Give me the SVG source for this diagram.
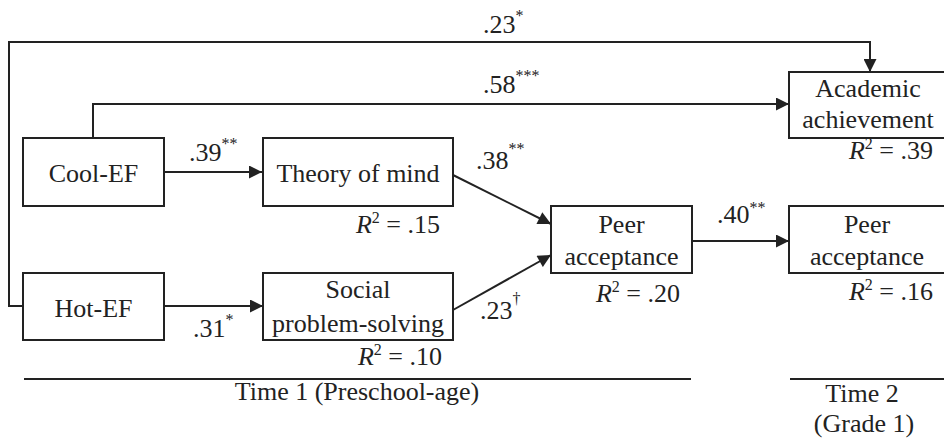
<svg xmlns="http://www.w3.org/2000/svg" width="944" height="443" viewBox="0 0 944 443" font-family="'Liberation Serif', Tinos, 'DejaVu Serif', serif">
<defs>
<style>
text{font-family:'Liberation Serif',Tinos,'Times New Roman','DejaVu Serif',serif;font-size:26px;fill:#222}
.c{text-anchor:middle}
.e{text-anchor:end}
.box{fill:#fff;stroke:#222;stroke-width:2}
.ln{fill:none;stroke:#222;stroke-width:2}
.sup{font-size:16px}
.i{font-style:italic}
</style>
<marker id="ah" viewBox="0 0 10 10" refX="10" refY="5" markerUnits="userSpaceOnUse" markerWidth="15" markerHeight="13" orient="auto">
<path d="M0,0 L10,5 L0,10 z" fill="#222"/>
</marker>
</defs>
<rect width="944" height="443" fill="#fff"/>
<g id="connectors">
<path class="ln" d="M23,306 H9 V42 H870 V72" marker-end="url(#ah)"/>
<path class="ln" d="M93,138 V104 H789" marker-end="url(#ah)"/>
<path class="ln" d="M164,172 H262" marker-end="url(#ah)"/>
<path class="ln" d="M164,306 H263" marker-end="url(#ah)"/>
<path class="ln" d="M453,175 L551,224" marker-end="url(#ah)"/>
<path class="ln" d="M453,310 L551,255" marker-end="url(#ah)"/>
<path class="ln" d="M692,241 H789" marker-end="url(#ah)"/>
<text x="483" y="33">.23<tspan class="sup" dy="-12">*</tspan></text>
<text x="483" y="93">.58<tspan class="sup" dy="-12">***</tspan></text>
<text x="189" y="161">.39<tspan class="sup" dy="-12">**</tspan></text>
<text x="193" y="337">.31<tspan class="sup" dy="-12">*</tspan></text>
<text x="476" y="169">.38<tspan class="sup" dy="-15">**</tspan></text>
<text x="480" y="319">.23<tspan class="sup" dy="-15">†</tspan></text>
<text x="717" y="223">.40<tspan class="sup" dy="-10">**</tspan></text>
</g>
<g id="cool-ef">
<rect class="box" x="23" y="138" width="141" height="68"/>
<text class="c" x="93.5" y="182">Cool-EF</text>
</g>
<g id="hot-ef">
<rect class="box" x="23" y="273" width="141" height="67"/>
<text class="c" x="93.5" y="317">Hot-EF</text>
</g>
<g id="theory-of-mind">
<rect class="box" x="263" y="138" width="190" height="68"/>
<text class="c" x="358" y="182">Theory of mind</text>
<text class="e" x="440" y="233"><tspan class="i">R</tspan><tspan class="sup" dy="-10">2</tspan><tspan dy="10"> = .15</tspan></text>
</g>
<g id="social-problem-solving">
<rect class="box" x="263" y="273" width="190" height="67"/>
<text class="c" x="358" y="298">Social</text>
<text class="c" x="358" y="332">problem-solving</text>
<text class="e" x="442" y="365"><tspan class="i">R</tspan><tspan class="sup" dy="-10">2</tspan><tspan dy="10"> = .10</tspan></text>
</g>
<g id="peer-acceptance-t1">
<rect class="box" x="551" y="206" width="141" height="67"/>
<text class="c" x="621.5" y="233">Peer</text>
<text class="c" x="621.5" y="265">acceptance</text>
<text class="e" x="680" y="302"><tspan class="i">R</tspan><tspan class="sup" dy="-10">2</tspan><tspan dy="10"> = .20</tspan></text>
</g>
<g id="academic-achievement">
<rect class="box" x="789" y="72" width="158" height="66"/>
<text class="c" x="868" y="97">Academic</text>
<text class="c" x="868" y="128">achievement</text>
<text class="e" x="933" y="159"><tspan class="i">R</tspan><tspan class="sup" dy="-10">2</tspan><tspan dy="10"> = .39</tspan></text>
</g>
<g id="peer-acceptance-t2">
<rect class="box" x="789" y="206" width="158" height="67"/>
<text class="c" x="867" y="233">Peer</text>
<text class="c" x="867" y="265">acceptance</text>
<text class="e" x="933" y="300"><tspan class="i">R</tspan><tspan class="sup" dy="-10">2</tspan><tspan dy="10"> = .16</tspan></text>
</g>
<g id="time-axis">
<line class="ln" x1="24" y1="379" x2="691" y2="379"/>
<line class="ln" x1="790" y1="379" x2="946" y2="379"/>
<text class="c" x="357" y="400">Time 1 (Preschool-age)</text>
<text class="c" x="862" y="402">Time 2</text>
<text class="c" x="864" y="432">(Grade 1)</text>
</g>
</svg>
